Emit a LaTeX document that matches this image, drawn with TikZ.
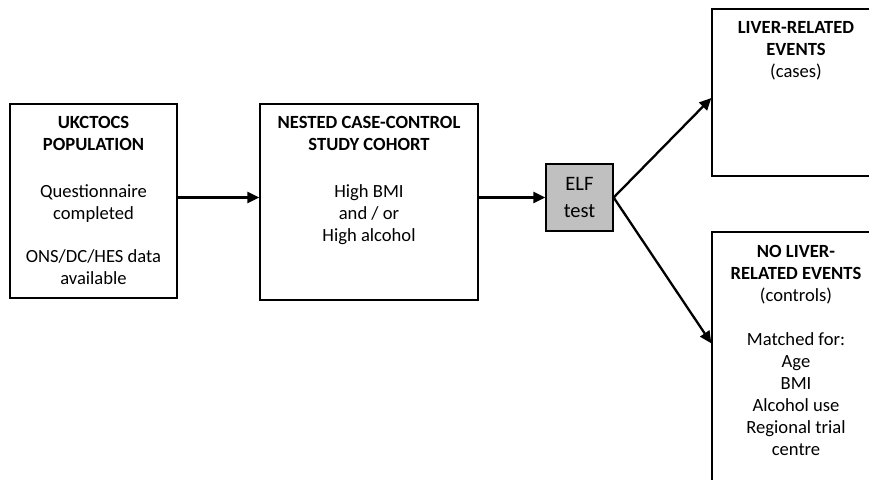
\documentclass[tikz,border=0pt]{standalone}
\usepackage{fontspec}
\setmainfont{Carlito}
\usetikzlibrary{calc}
\usetikzlibrary{arrows.meta}
\definecolor{ELFgrey}{RGB}{192,192,192}

\begin{document}
\begin{tikzpicture}[x=1pt, y=-1pt,
		Pfeil/.style={line width=2.3pt, arrows = -{Triangle[length=12pt, width=11pt]}},
		Kasten/.style={draw, line width=1.3pt, inner sep=0pt},
		Text/.style={anchor=north, align=center, inner sep=0pt, font=\fontsize{18.6}{22}\selectfont}]
				\useasboundingbox (0,0) rectangle (869,479);
				\clip (0,0) rectangle (869,479);
				% boxes
				\node (pop) at (93.5,201) [Kasten, minimum width=167pt, minimum height=194pt] {};
				\node (coh) at (369,202) [Kasten, minimum width=218pt, minimum height=196pt] {};
				\node (elf) at (579.5,197.5) [Kasten, fill=ELFgrey, minimum width=67pt, minimum height=67pt, align=center, font=\fontsize{20.5}{27}\selectfont] {ELF\\test};
				\node (cas) at (796,92.5) [Kasten, minimum width=168pt, minimum height=167pt] {};
				\node (con) at (796,376) [Kasten, minimum width=168pt, minimum height=288pt] {};
				% texts
				\node (popT) at ($(pop.north) + (0,13)$) [Text] {\textbf{UKCTOCS}\\\textbf{POPULATION}\\[25pt]Questionnaire\\completed\\[21pt]ONS/DC/HES data\\available};
				\node (cohT) at ($(coh.north) + (0,13)$) [Text] {\textbf{NESTED CASE-CONTROL}\\\textbf{STUDY COHORT}\\[25pt]High BMI\\and / or\\High alcohol};
				\node (casT) at ($(cas.north) + (0,13)$) [Text] {\textbf{LIVER-RELATED}\\\textbf{EVENTS}\\(cases)};
				\node (conT) at ($(con.north) + (0,14)$) [Text] {\textbf{NO LIVER-}\\\textbf{RELATED EVENTS}\\(controls)\\[22pt]Matched for:\\Age\\BMI\\Alcohol use\\Regional trial\\centre};
				% arrows
				\draw[Pfeil] (pop.east |- elf.west) -- (coh.west |- elf.west);
				\draw[Pfeil] (coh.east |- elf.west) -- (elf.west);
				\draw[Pfeil] (elf.east) -- ($(cas.west) + (0,5.5)$);
				\draw[Pfeil] (elf.east) -- ($(con.north west) + (0,112)$);
\end{tikzpicture}
\end{document}
